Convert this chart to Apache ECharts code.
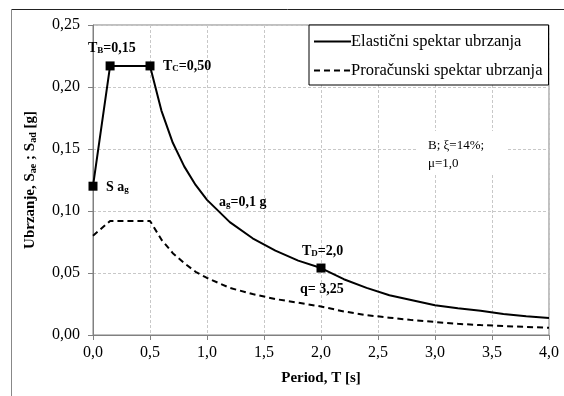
<!DOCTYPE html>
<html><head><meta charset="utf-8">
<script src="https://cdn.jsdelivr.net/npm/echarts@6/dist/echarts.min.js"></script>
<style>html,body{margin:0;padding:0;background:#fff}#c{width:564px;height:396px}</style>
</head><body><div id="c"></div>
<script>
var periods = [0, 0.15, 0.5, 0.6, 0.7, 0.8, 0.9, 1.0, 1.2, 1.4, 1.6, 1.8, 2.0, 2.2, 2.4, 2.6, 2.8, 3.0, 3.2, 3.4, 3.6, 3.8, 4.0];
var elastic = [0.120, 0.217, 0.217, 0.181, 0.155, 0.136, 0.121, 0.109, 0.091, 0.078, 0.068, 0.060, 0.054, 0.045, 0.038, 0.032, 0.028, 0.024, 0.0215, 0.0196, 0.017, 0.0152, 0.0138];
var design = [0.080, 0.092, 0.092, 0.077, 0.066, 0.058, 0.051, 0.046, 0.038, 0.033, 0.029, 0.026, 0.023, 0.019, 0.016, 0.014, 0.012, 0.0105, 0.009, 0.008, 0.0072, 0.0065, 0.0058];
var markerT = [0, 0.15, 0.5, 2.0];
var markerS = [0.120, 0.217, 0.217, 0.054];
var seriesNames = ['Elastični spektar ubrzanja', 'Proračunski spektar ubrzanja'];
var xTicks = ['0,0','0,5','1,0','1,5','2,0','2,5','3,0','3,5','4,0'];
var yTicks = ['0,00','0,05','0,10','0,15','0,20','0,25'];

var F = '"Liberation Serif","Times New Roman",serif';
var chart = echarts.init(document.getElementById('c'), null, {renderer:'canvas'});
function zip(a,b){return a.map(function(v,i){return [v,b[i]];});}
var sub = {
  b:{fontFamily:F,fontWeight:'bold',fontSize:14,color:'#000',lineHeight:14,verticalAlign:'top',padding:[0,0,2,0]},
  s:{fontFamily:F,fontWeight:'bold',fontSize:9,color:'#000',lineHeight:9,verticalAlign:'bottom'}
};
chart.setOption({
  animation:false,
  backgroundColor:'#fff',
  grid:{left:93,right:15,top:25,bottom:61,show:true,borderColor:'#808080',borderWidth:1,backgroundColor:'transparent'},
  legend:{
    data:[{name:seriesNames[0]},{name:seriesNames[1]}],
    orient:'vertical',left:309,top:25,
    backgroundColor:'#fff',borderColor:'#000',borderWidth:1,borderRadius:0,
    padding:[8,6,6,4],itemGap:12,itemWidth:37,itemHeight:14,
    itemStyle:{opacity:0},
    textStyle:{fontFamily:F,fontSize:16.5,color:'#000',padding:[0,0,0,-5]}
  },
  xAxis:{
    type:'value',min:0,max:4,interval:0.5,
    name:'Period, T [s]',nameLocation:'middle',nameGap:36,
    nameTextStyle:{fontFamily:F,fontWeight:'bold',fontSize:15,color:'#000'},
    axisLine:{show:true,lineStyle:{color:'#808080',width:1}},
    axisTick:{show:true,lineStyle:{color:'#808080'},length:5},
    axisLabel:{fontFamily:F,fontSize:16,color:'#000',margin:10,formatter:function(v){return xTicks[Math.round(v/0.5)];}},
    splitLine:{show:true,lineStyle:{color:'#c8c8c8',type:[3,2],width:1}}
  },
  yAxis:{
    type:'value',min:0,max:0.25,interval:0.05,
    name:'{b|Ubrzanje, S}{s|ae}{b| ; S}{s|ad}{b| [g]}',nameLocation:'middle',nameGap:55,
    nameTextStyle:{rich:{b:{fontFamily:F,fontWeight:'bold',fontSize:15,color:'#000'},s:{fontFamily:F,fontWeight:'bold',fontSize:10,color:'#000',padding:[6,0,0,0]}}},
    axisLine:{show:true,lineStyle:{color:'#808080',width:1}},
    axisTick:{show:true,lineStyle:{color:'#808080'},length:5},
    axisLabel:{fontFamily:F,fontSize:16,color:'#000',margin:13,formatter:function(v){return yTicks[Math.round(v/0.05)];}},
    splitLine:{show:true,lineStyle:{color:'#c8c8c8',type:[3,2],width:1}}
  },
  graphic:[
    {type:'line',shape:{x1:11,y1:9.5,x2:564,y2:9.5},style:{stroke:'#222',lineWidth:1},z:100},
    {type:'line',shape:{x1:11.5,y1:9,x2:11.5,y2:396},style:{stroke:'#888',lineWidth:1},z:100},
    {type:'rect',shape:{x:418,y:131,width:88,height:44},style:{fill:'#fff'},z:1},
    {type:'text',left:428,top:137,style:{text:'B; ξ=14%;\nμ=1,0',font:'13px '+F,fill:'#000',lineHeight:18},z:5},
    {type:'text',left:88,top:41,style:{text:'{b|T}{s|B}{b|=0,15}',rich:sub},z:5},
    {type:'text',left:163,top:59,style:{text:'{b|T}{s|C}{b|=0,50}',rich:sub},z:5},
    {type:'text',left:106,top:180,style:{text:'{b|S a}{s|g}',rich:sub},z:5},
    {type:'text',left:219,top:195,style:{text:'{b|a}{s|g}{b|=0,1 g}',rich:sub},z:5},
    {type:'text',left:302,top:244,style:{text:'{b|T}{s|D}{b|=2,0}',rich:sub},z:5},
    {type:'text',left:300,top:282,style:{text:'{b|q= 3,25}',rich:sub},z:5}
  ],
  series:[
    {name:seriesNames[0],type:'line',data:zip(periods,elastic),symbol:'none',
     lineStyle:{color:'#000',width:2},itemStyle:{color:'#000'},z:3},
    {name:seriesNames[1],type:'line',data:zip(periods,design),symbol:'none',
     lineStyle:{color:'#000',width:2,type:[6,4]},itemStyle:{color:'#000'},z:3},
    {name:'markers',type:'scatter',data:zip(markerT,markerS),symbol:'rect',symbolSize:9,
     itemStyle:{color:'#000',opacity:1},z:4}
  ]
});
</script></body></html>
